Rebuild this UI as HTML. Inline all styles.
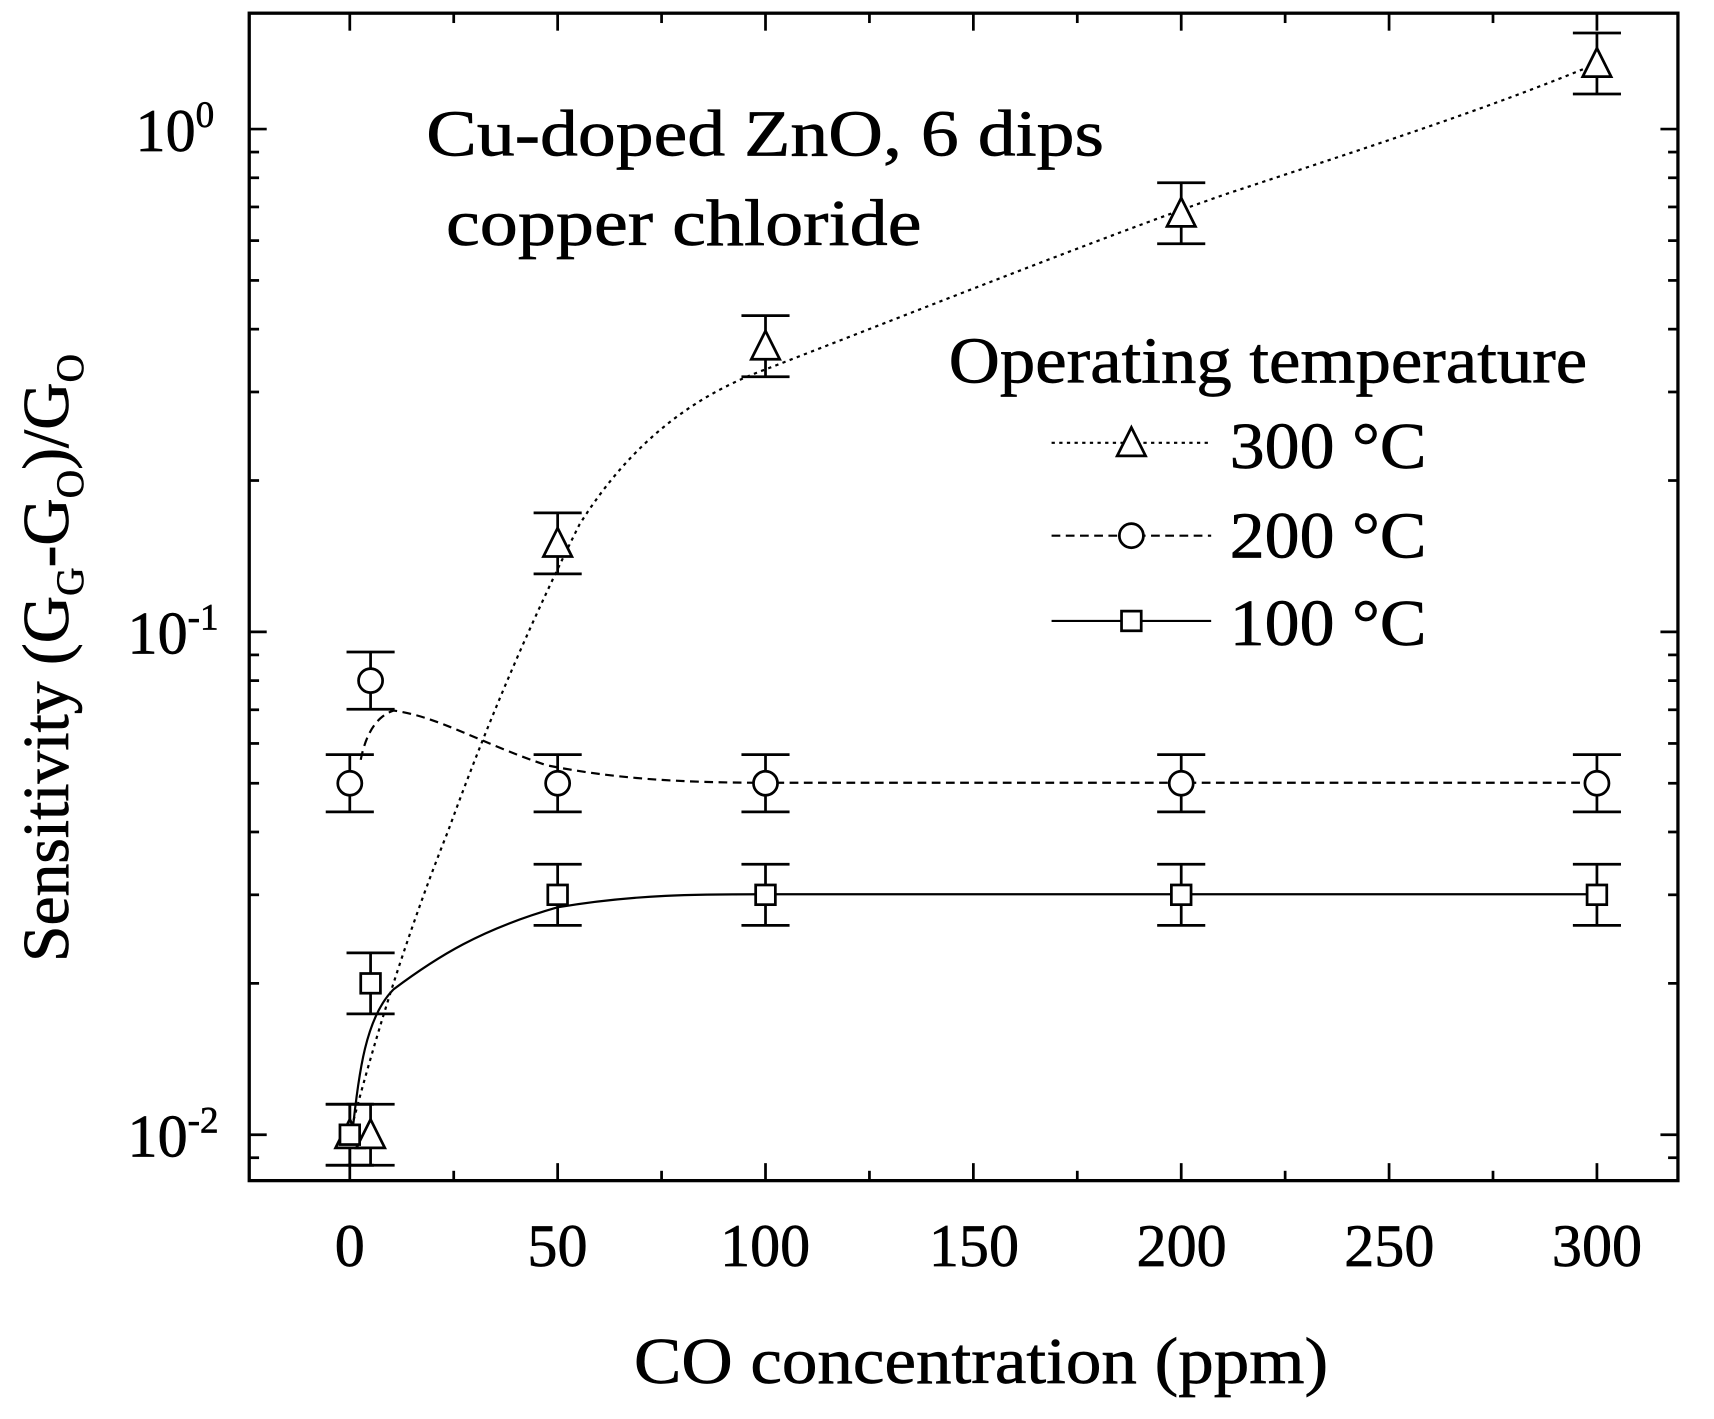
<!DOCTYPE html>
<html><head><meta charset="utf-8"><style>
html,body{margin:0;padding:0;background:#fff;width:1714px;height:1419px;overflow:hidden}
svg{display:block}
text{font-family:"Liberation Serif",serif;fill:#000;stroke:#000;stroke-width:0.6}
</style></head><body>
<svg id="s" width="1714" height="1419" viewBox="0 0 1568 1298" xmlns="http://www.w3.org/2000/svg">
<g id="ticks" stroke="#000" stroke-width="2.5"></g>
<rect x="228" y="12" width="1307" height="1068" fill="none" stroke="#000" stroke-width="3"/>
<g font-size="55" text-anchor="middle">
<text x="320" y="1158">0</text><text x="510" y="1158">50</text><text x="700" y="1158">100</text>
<text x="891" y="1158">150</text><text x="1081" y="1158">200</text><text x="1271" y="1158">250</text><text x="1461" y="1158">300</text>
</g>
<g font-size="55" text-anchor="end">
<text x="196" y="138">10<tspan font-size="34" dy="-22">0</tspan></text>
<text x="200" y="598">10<tspan font-size="34" dy="-22">-1</tspan></text>
<text x="200" y="1058">10<tspan font-size="34" dy="-22">-2</tspan></text>
</g>
<text x="580" y="1265" font-size="60" textLength="635" lengthAdjust="spacingAndGlyphs">CO concentration (ppm)</text>
<text transform="translate(62,880) rotate(-90)" font-size="60">Sensitivity (G<tspan font-size="36" dy="14">G</tspan><tspan dy="-14">-G</tspan><tspan font-size="36" dy="14">O</tspan><tspan dy="-14">)/G</tspan><tspan font-size="36" dy="14">O</tspan></text>
<text x="390" y="142" font-size="60" textLength="620" lengthAdjust="spacingAndGlyphs">Cu-doped ZnO, 6 dips</text>
<text x="408" y="224" font-size="60" textLength="435" lengthAdjust="spacingAndGlyphs">copper chloride</text>
<text x="868" y="350" font-size="60" textLength="584" lengthAdjust="spacingAndGlyphs">Operating temperature</text>
<text x="1125" y="428" font-size="60" textLength="180" lengthAdjust="spacingAndGlyphs">300 °C</text>
<text x="1125" y="510" font-size="60" textLength="180" lengthAdjust="spacingAndGlyphs">200 °C</text>
<text x="1125" y="590" font-size="60" textLength="180" lengthAdjust="spacingAndGlyphs">100 °C</text>
<g fill="none" stroke="#000" stroke-width="2">
<path d="M320,1038 C340,960 370,860 410,760 C450,650 490,560 530,480 C580,400 640,360 700,338 C850,280 1000,220 1120,178 C1250,135 1360,100 1461,58" stroke-dasharray="3,4"/>
<path d="M330,695 C335,670 345,655 360,650 C400,655 440,680 500,700 C560,712 620,716 700,716 L1461,716" stroke-dasharray="8,5"/>
<path d="M322,1040 C328,980 335,930 360,905 C400,875 440,850 510,830 C580,818 640,818 700,818 L1461,818"/>
<line x1="962" y1="405" x2="1108" y2="405" stroke-dasharray="3,4"/>
<line x1="962" y1="490" x2="1108" y2="490" stroke-dasharray="8,5"/>
<line x1="962" y1="568" x2="1108" y2="568"/>
</g>
<g id="data" fill="#fff" stroke="#000" stroke-width="2.5"></g>
</svg>
<script>
var NS="http://www.w3.org/2000/svg";
function el(p,t,a){var e=document.createElementNS(NS,t);for(var k in a)e.setAttribute(k,a[k]);p.appendChild(e);return e;}
var T=document.getElementById('ticks');
for(var v=0;v<=325;v+=25){var x=320+v*3.803;if(x<229||x>1534)continue;var L=(v%50==0)?16:9;
el(T,'line',{x1:x,y1:1080,x2:x,y2:1080-L});el(T,'line',{x1:x,y1:12,x2:x,y2:12+L});}
for(var d=-3;d<=0;d++)for(var m=1;m<10;m++){var y=118-460*(d+Math.log10(m));if(y<13||y>1079)continue;var L=m==1?16:9;
el(T,'line',{x1:228,y1:y,x2:228+L,y2:y});el(T,'line',{x1:1535,y1:y,x2:1535-L,y2:y});}
var D=document.getElementById('data');
function Y(v){return 118-460*Math.log10(v);}
function X(c){return 320+c*3.803;}
function eb(x,y1,y2){el(D,'line',{x1:x,y1:y1,x2:x,y2:y2});el(D,'line',{x1:x-22,y1:y1,x2:x+22,y2:y1});el(D,'line',{x1:x-22,y1:y2,x2:x+22,y2:y2});}
function tri(x,y){el(D,'polygon',{points:(x-13)+','+(y+12)+' '+(x+13)+','+(y+12)+' '+x+','+(y-14)});}
function cir(x,y){el(D,'circle',{cx:x,cy:y,r:11});}
function sq(x,y){el(D,'rect',{x:x-9,y:y-9,width:18,height:18});}
var tv=[[0,.01],[5,.01],[50,.15],[100,.37],[200,.68],[300,1.35]];
var cv=[[0,.05],[5,.08],[50,.05],[100,.05],[200,.05],[300,.05]];
var sv=[[0,.01],[5,.02],[50,.03],[100,.03],[200,.03],[300,.03]];
[[tv,tri,0.15],[cv,cir,0.14],[sv,sq,0.15]].forEach(function(s){s[0].forEach(function(p){var x=X(p[0]);var y=Y(p[1]);var dy=460*Math.log10(1+s[2]);eb(x,y-dy,y+dy);});});
tv.forEach(function(p){tri(X(p[0]),Y(p[1]));});
cv.forEach(function(p){cir(X(p[0]),Y(p[1]));});
sv.forEach(function(p){sq(X(p[0]),Y(p[1]));});
tri(1035,405);cir(1035,490);sq(1035,568);
</script>
</body></html>
